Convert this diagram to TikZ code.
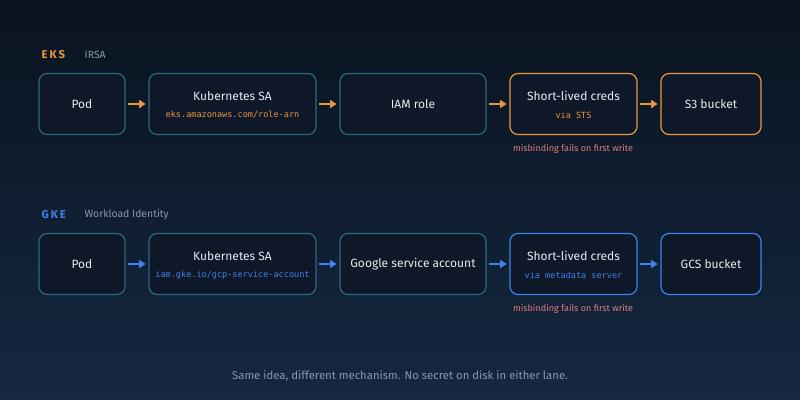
\documentclass[tikz,border=0pt]{standalone}
\usepackage{fontspec}
\setmainfont{Fira Sans}
\setmonofont{DejaVu Sans Mono}
\usetikzlibrary{arrows.meta}
\definecolor{bgA}{HTML}{0A1320}
\definecolor{bgB}{HTML}{142840}
\definecolor{boxf}{HTML}{0E1828}
\definecolor{teal}{HTML}{2A6A80}
\definecolor{org}{HTML}{E8973E}
\definecolor{blu}{HTML}{3F82EC}
\definecolor{txt}{HTML}{E6EBF2}
\definecolor{gry}{HTML}{8A97A8}
\definecolor{red}{HTML}{E07B7B}
\begin{document}
\begin{tikzpicture}[x=0.75pt,y=-0.75pt,
  box/.style={draw=teal,fill=boxf,rounded corners=6pt,line width=0.9pt,inner sep=0pt},
  t/.style={text=txt,font=\fontsize{9}{11}\selectfont},
  m/.style={font=\ttfamily\fontsize{6.4}{7.5}\selectfont},
  note/.style={text=red,font=\fontsize{6.8}{8}\selectfont},
  ar/.style={line width=1.3pt,-{Triangle[length=5pt,width=6pt]}}]
\shade[top color=bgA,bottom color=bgB] (0,0) rectangle (800,400);
\useasboundingbox (0,0) rectangle (800,400);
\foreach \r/\y/\c in {e/104/org,g/264/blu}{
  \node[box,minimum width=64.5pt,minimum height=45.75pt] (\r1) at (82,\y) {};
  \node[box,minimum width=125.25pt,minimum height=45.75pt] (\r2) at (232.5,\y) {};
  \node[box,minimum width=109.5pt,minimum height=45.75pt] (\r3) at (413,\y) {};
  \node[box,draw=\c,minimum width=95.25pt,minimum height=45.75pt] (\r4) at (573.5,\y) {};
  \node[box,draw=\c,minimum width=75pt,minimum height=45.75pt] (\r5) at (711,\y) {};
  \foreach \a/\b in {1/2,2/3,3/4,4/5} \draw[ar,\c] ([xshift=2pt]\r\a.east) -- ([xshift=-2pt]\r\b.west);
}
% EKS
\node[text=org,font=\bfseries\fontsize{8.5}{9}\selectfont,anchor=west] (eks) at (37,55) {E\,K\,S};
\node[text=gry,font=\fontsize{7.8}{9}\selectfont,anchor=west] (irsa) at (80,55) {IRSA};
\node[t] at (e1) {Pod};
\node[t] at (232.5,96) {Kubernetes SA};
\node[m,text=org] at (232.5,115) {eks.amazonaws.com/role-arn};
\node[t] at (e3) {IAM role};
\node[t] at (573.5,96) {Short-lived creds};
\node[m,text=org] at (573.5,115) {via STS};
\node[t] at (e5) {S3 bucket};
\node[note] (n1) at (573,149) {misbinding fails on first write};
% GKE
\node[text=blu,font=\bfseries\fontsize{8.5}{9}\selectfont,anchor=west] (gke) at (37,215) {G\,K\,E};
\node[text=gry,font=\fontsize{7.8}{9}\selectfont,anchor=west] (wi) at (80,215) {Workload Identity};
\node[t] at (g1) {Pod};
\node[t] at (232.5,256) {Kubernetes SA};
\node[m,text=blu] at (232.5,275) {iam.gke.io/gcp-service-account};
\node[t] at (g3) {Google service account};
\node[t] at (573.5,256) {Short-lived creds};
\node[m,text=blu] at (573.5,275) {via metadata server};
\node[t] at (g5) {GCS bucket};
\node[note] (n2) at (573,309) {misbinding fails on first write};
\node[text=gry,font=\fontsize{8.5}{10}\selectfont] (cap) at (400,376) {Same idea, different mechanism. No secret on disk in either lane.};
\end{tikzpicture}
\end{document}
